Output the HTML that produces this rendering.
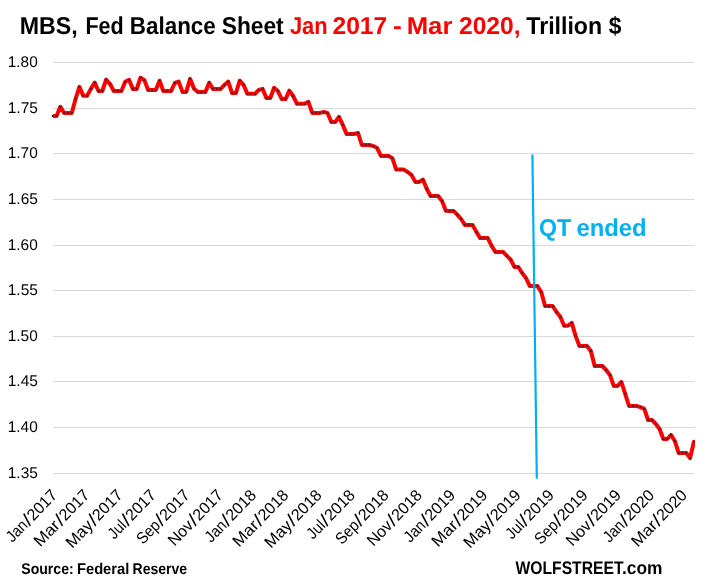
<!DOCTYPE html>
<html><head><meta charset="utf-8"><style>
html,body{margin:0;padding:0;background:#fff;}
body{width:714px;height:588px;position:relative;overflow:hidden;}
svg{position:absolute;left:0;top:0;}
text{font-family:"Liberation Sans",sans-serif;}
</style></head><body>
<svg width="714" height="588" viewBox="0 0 714 588">
<g stroke="#d9d9d9" stroke-width="1"><line x1="53.4" y1="62.5" x2="694.6" y2="62.5"/><line x1="53.4" y1="108.5" x2="694.6" y2="108.5"/><line x1="53.4" y1="153.5" x2="694.6" y2="153.5"/><line x1="53.4" y1="199.5" x2="694.6" y2="199.5"/><line x1="53.4" y1="245.5" x2="694.6" y2="245.5"/><line x1="53.4" y1="290.5" x2="694.6" y2="290.5"/><line x1="53.4" y1="336.5" x2="694.6" y2="336.5"/><line x1="53.4" y1="381.5" x2="694.6" y2="381.5"/><line x1="53.4" y1="427.5" x2="694.6" y2="427.5"/><line x1="53.4" y1="473.5" x2="694.6" y2="473.5"/></g>
<defs><clipPath id="pa"><rect x="53.1" y="0" width="641.90" height="588"/></clipPath></defs>
<polyline clip-path="url(#pa)" points="52.70,116.0 56.52,116.0 60.33,106.8 64.15,113.0 67.97,113.0 71.78,113.0 75.60,98.8 79.42,86.8 83.23,95.8 87.05,95.8 90.87,88.9 94.68,82.6 98.50,91.0 102.32,91.0 106.13,79.6 109.95,83.8 113.77,91.0 117.58,91.0 121.40,91.0 125.22,81.8 129.03,79.8 132.85,89.1 136.67,89.1 140.48,77.7 144.30,79.9 148.12,90.0 151.93,90.0 155.75,90.0 159.57,80.7 163.38,91.1 167.20,91.1 171.02,91.1 174.83,83.0 178.65,81.6 182.47,91.9 186.28,91.9 190.10,78.8 193.92,88.6 197.73,91.9 201.55,91.9 205.37,91.9 209.18,82.7 213.00,88.9 216.82,88.9 220.63,88.9 224.45,84.9 228.27,81.6 232.08,93.1 235.90,93.1 239.72,80.7 243.53,84.9 247.35,93.8 251.17,93.8 254.98,93.8 258.80,89.9 262.62,88.9 266.43,98.1 270.25,98.1 274.07,87.8 277.88,91.0 281.70,99.1 285.52,99.1 289.33,90.7 293.15,96.0 296.97,103.8 300.78,103.8 304.60,103.8 308.42,101.9 312.23,112.9 316.05,112.9 319.87,112.9 323.68,112.0 327.50,112.9 331.32,122.1 335.13,122.1 338.95,116.8 342.77,124.9 346.58,133.9 350.40,133.9 354.22,133.9 358.03,133.0 361.85,145.0 365.67,145.0 369.48,145.0 373.30,146.1 377.12,148.1 380.93,155.9 384.75,155.9 388.57,155.9 392.38,158.2 396.20,169.6 400.02,169.6 403.83,169.6 407.65,172.0 411.47,174.9 415.28,181.9 419.10,181.9 422.92,179.6 426.73,188.8 430.55,196.1 434.37,196.1 438.18,196.1 442.00,200.9 445.82,210.8 449.63,210.9 453.45,210.9 457.27,214.6 461.08,219.0 464.90,224.9 468.72,224.9 472.53,224.9 476.35,231.9 480.17,238.1 483.98,238.1 487.80,238.1 491.62,245.9 495.43,251.9 499.25,251.9 503.07,251.9 506.88,255.8 510.70,259.7 514.52,267.0 518.33,267.0 522.15,273.0 525.97,278.0 529.78,286.1 533.60,286.1 537.42,286.1 541.23,292.0 545.05,306.0 548.87,306.0 552.68,306.0 556.50,312.0 560.32,316.8 564.13,325.8 567.95,325.8 571.77,322.8 575.58,335.9 579.40,346.0 583.22,346.0 587.03,346.0 590.85,351.0 594.67,366.0 598.48,366.0 602.30,366.0 606.12,370.0 609.93,375.0 613.75,385.9 617.57,385.9 621.38,382.0 625.20,393.9 629.02,406.0 632.83,406.0 636.65,406.0 640.47,407.1 644.28,408.9 648.10,420.0 651.92,420.0 655.73,423.9 659.55,429.0 663.37,439.0 667.18,439.0 671.00,434.9 674.82,441.0 678.63,452.9 682.45,452.9 686.27,452.9 690.08,458.1 693.90,441.8" fill="none" stroke="#ff0000" stroke-width="4.0" stroke-linejoin="round" stroke-linecap="round"/>
<path d="M51.80 115.10h1.8v1.8h-1.8zM55.62 115.10h1.8v1.8h-1.8zM59.43 105.90h1.8v1.8h-1.8zM63.25 112.10h1.8v1.8h-1.8zM67.07 112.10h1.8v1.8h-1.8zM70.88 112.10h1.8v1.8h-1.8zM74.70 97.90h1.8v1.8h-1.8zM78.52 85.90h1.8v1.8h-1.8zM82.33 94.90h1.8v1.8h-1.8zM86.15 94.90h1.8v1.8h-1.8zM89.97 88.00h1.8v1.8h-1.8zM93.78 81.70h1.8v1.8h-1.8zM97.60 90.10h1.8v1.8h-1.8zM101.42 90.10h1.8v1.8h-1.8zM105.23 78.70h1.8v1.8h-1.8zM109.05 82.90h1.8v1.8h-1.8zM112.87 90.10h1.8v1.8h-1.8zM116.68 90.10h1.8v1.8h-1.8zM120.50 90.10h1.8v1.8h-1.8zM124.32 80.90h1.8v1.8h-1.8zM128.13 78.90h1.8v1.8h-1.8zM131.95 88.20h1.8v1.8h-1.8zM135.77 88.20h1.8v1.8h-1.8zM139.58 76.80h1.8v1.8h-1.8zM143.40 79.00h1.8v1.8h-1.8zM147.22 89.10h1.8v1.8h-1.8zM151.03 89.10h1.8v1.8h-1.8zM154.85 89.10h1.8v1.8h-1.8zM158.67 79.80h1.8v1.8h-1.8zM162.48 90.20h1.8v1.8h-1.8zM166.30 90.20h1.8v1.8h-1.8zM170.12 90.20h1.8v1.8h-1.8zM173.93 82.10h1.8v1.8h-1.8zM177.75 80.70h1.8v1.8h-1.8zM181.57 91.00h1.8v1.8h-1.8zM185.38 91.00h1.8v1.8h-1.8zM189.20 77.90h1.8v1.8h-1.8zM193.02 87.70h1.8v1.8h-1.8zM196.83 91.00h1.8v1.8h-1.8zM200.65 91.00h1.8v1.8h-1.8zM204.47 91.00h1.8v1.8h-1.8zM208.28 81.80h1.8v1.8h-1.8zM212.10 88.00h1.8v1.8h-1.8zM215.92 88.00h1.8v1.8h-1.8zM219.73 88.00h1.8v1.8h-1.8zM223.55 84.00h1.8v1.8h-1.8zM227.37 80.70h1.8v1.8h-1.8zM231.18 92.20h1.8v1.8h-1.8zM235.00 92.20h1.8v1.8h-1.8zM238.82 79.80h1.8v1.8h-1.8zM242.63 84.00h1.8v1.8h-1.8zM246.45 92.90h1.8v1.8h-1.8zM250.27 92.90h1.8v1.8h-1.8zM254.08 92.90h1.8v1.8h-1.8zM257.90 89.00h1.8v1.8h-1.8zM261.72 88.00h1.8v1.8h-1.8zM265.53 97.20h1.8v1.8h-1.8zM269.35 97.20h1.8v1.8h-1.8zM273.17 86.90h1.8v1.8h-1.8zM276.98 90.10h1.8v1.8h-1.8zM280.80 98.20h1.8v1.8h-1.8zM284.62 98.20h1.8v1.8h-1.8zM288.43 89.80h1.8v1.8h-1.8zM292.25 95.10h1.8v1.8h-1.8zM296.07 102.90h1.8v1.8h-1.8zM299.88 102.90h1.8v1.8h-1.8zM303.70 102.90h1.8v1.8h-1.8zM307.52 101.00h1.8v1.8h-1.8zM311.33 112.00h1.8v1.8h-1.8zM315.15 112.00h1.8v1.8h-1.8zM318.97 112.00h1.8v1.8h-1.8zM322.78 111.10h1.8v1.8h-1.8zM326.60 112.00h1.8v1.8h-1.8zM330.42 121.20h1.8v1.8h-1.8zM334.23 121.20h1.8v1.8h-1.8zM338.05 115.90h1.8v1.8h-1.8zM341.87 124.00h1.8v1.8h-1.8zM345.68 133.00h1.8v1.8h-1.8zM349.50 133.00h1.8v1.8h-1.8zM353.32 133.00h1.8v1.8h-1.8zM357.13 132.10h1.8v1.8h-1.8zM360.95 144.10h1.8v1.8h-1.8zM364.77 144.10h1.8v1.8h-1.8zM368.58 144.10h1.8v1.8h-1.8zM372.40 145.20h1.8v1.8h-1.8zM376.22 147.20h1.8v1.8h-1.8zM380.03 155.00h1.8v1.8h-1.8zM383.85 155.00h1.8v1.8h-1.8zM387.67 155.00h1.8v1.8h-1.8zM391.48 157.30h1.8v1.8h-1.8zM395.30 168.70h1.8v1.8h-1.8zM399.12 168.70h1.8v1.8h-1.8zM402.93 168.70h1.8v1.8h-1.8zM406.75 171.10h1.8v1.8h-1.8zM410.57 174.00h1.8v1.8h-1.8zM414.38 181.00h1.8v1.8h-1.8zM418.20 181.00h1.8v1.8h-1.8zM422.02 178.70h1.8v1.8h-1.8zM425.83 187.90h1.8v1.8h-1.8zM429.65 195.20h1.8v1.8h-1.8zM433.47 195.20h1.8v1.8h-1.8zM437.28 195.20h1.8v1.8h-1.8zM441.10 200.00h1.8v1.8h-1.8zM444.92 209.90h1.8v1.8h-1.8zM448.73 210.00h1.8v1.8h-1.8zM452.55 210.00h1.8v1.8h-1.8zM456.37 213.70h1.8v1.8h-1.8zM460.18 218.10h1.8v1.8h-1.8zM464.00 224.00h1.8v1.8h-1.8zM467.82 224.00h1.8v1.8h-1.8zM471.63 224.00h1.8v1.8h-1.8zM475.45 231.00h1.8v1.8h-1.8zM479.27 237.20h1.8v1.8h-1.8zM483.08 237.20h1.8v1.8h-1.8zM486.90 237.20h1.8v1.8h-1.8zM490.72 245.00h1.8v1.8h-1.8zM494.53 251.00h1.8v1.8h-1.8zM498.35 251.00h1.8v1.8h-1.8zM502.17 251.00h1.8v1.8h-1.8zM505.98 254.90h1.8v1.8h-1.8zM509.80 258.80h1.8v1.8h-1.8zM513.62 266.10h1.8v1.8h-1.8zM517.43 266.10h1.8v1.8h-1.8zM521.25 272.10h1.8v1.8h-1.8zM525.07 277.10h1.8v1.8h-1.8zM528.88 285.20h1.8v1.8h-1.8zM532.70 285.20h1.8v1.8h-1.8zM536.52 285.20h1.8v1.8h-1.8zM540.33 291.10h1.8v1.8h-1.8zM544.15 305.10h1.8v1.8h-1.8zM547.97 305.10h1.8v1.8h-1.8zM551.78 305.10h1.8v1.8h-1.8zM555.60 311.10h1.8v1.8h-1.8zM559.42 315.90h1.8v1.8h-1.8zM563.23 324.90h1.8v1.8h-1.8zM567.05 324.90h1.8v1.8h-1.8zM570.87 321.90h1.8v1.8h-1.8zM574.68 335.00h1.8v1.8h-1.8zM578.50 345.10h1.8v1.8h-1.8zM582.32 345.10h1.8v1.8h-1.8zM586.13 345.10h1.8v1.8h-1.8zM589.95 350.10h1.8v1.8h-1.8zM593.77 365.10h1.8v1.8h-1.8zM597.58 365.10h1.8v1.8h-1.8zM601.40 365.10h1.8v1.8h-1.8zM605.22 369.10h1.8v1.8h-1.8zM609.03 374.10h1.8v1.8h-1.8zM612.85 385.00h1.8v1.8h-1.8zM616.67 385.00h1.8v1.8h-1.8zM620.48 381.10h1.8v1.8h-1.8zM624.30 393.00h1.8v1.8h-1.8zM628.12 405.10h1.8v1.8h-1.8zM631.93 405.10h1.8v1.8h-1.8zM635.75 405.10h1.8v1.8h-1.8zM639.57 406.20h1.8v1.8h-1.8zM643.38 408.00h1.8v1.8h-1.8zM647.20 419.10h1.8v1.8h-1.8zM651.02 419.10h1.8v1.8h-1.8zM654.83 423.00h1.8v1.8h-1.8zM658.65 428.10h1.8v1.8h-1.8zM662.47 438.10h1.8v1.8h-1.8zM666.28 438.10h1.8v1.8h-1.8zM670.10 434.00h1.8v1.8h-1.8zM673.92 440.10h1.8v1.8h-1.8zM677.73 452.00h1.8v1.8h-1.8zM681.55 452.00h1.8v1.8h-1.8zM685.37 452.00h1.8v1.8h-1.8zM689.18 457.20h1.8v1.8h-1.8zM693.00 440.90h1.8v1.8h-1.8z" fill="#3a2030"/>
<line x1="532.4" y1="155.3" x2="536.8" y2="477.8" stroke="#00b0f0" stroke-width="2.2" stroke-linecap="round"/>
</svg>
<svg width="714" height="588" viewBox="0 0 714 588" style="will-change:transform;text-rendering:geometricPrecision">
<text x="19.68" y="33.60" font-size="24.35" font-weight="bold" fill="#000" textLength="57.94" lengthAdjust="spacingAndGlyphs">MBS,</text>
<text x="85.39" y="33.60" font-size="24.35" font-weight="bold" fill="#000" textLength="38.27" lengthAdjust="spacingAndGlyphs">Fed</text>
<text x="129.83" y="33.60" font-size="24.35" font-weight="bold" fill="#000" textLength="85.96" lengthAdjust="spacingAndGlyphs">Balance</text>
<text x="221.72" y="33.60" font-size="24.35" font-weight="bold" fill="#000" textLength="61.99" lengthAdjust="spacingAndGlyphs">Sheet</text>
<text x="289.93" y="33.60" font-size="24.35" font-weight="bold" fill="#f00" textLength="37.73" lengthAdjust="spacingAndGlyphs">Jan</text>
<text x="332.47" y="33.60" font-size="24.35" font-weight="bold" fill="#f00" textLength="54.67" lengthAdjust="spacingAndGlyphs">2017</text>
<text x="393.14" y="33.60" font-size="24.35" font-weight="bold" fill="#f00" textLength="8.79" lengthAdjust="spacingAndGlyphs">-</text>
<text x="406.67" y="33.60" font-size="24.35" font-weight="bold" fill="#f00" textLength="45.75" lengthAdjust="spacingAndGlyphs">Mar</text>
<text x="458.96" y="33.60" font-size="24.35" font-weight="bold" fill="#f00" textLength="61.58" lengthAdjust="spacingAndGlyphs">2020,</text>
<text x="526.27" y="33.60" font-size="24.35" font-weight="bold" fill="#000" textLength="75.87" lengthAdjust="spacingAndGlyphs">Trillion</text>
<text x="608.67" y="33.60" font-size="24.35" font-weight="bold" fill="#000" textLength="12.70" lengthAdjust="spacingAndGlyphs">$</text>
<text x="21.28" y="573.70" font-size="15.51" font-weight="bold" fill="#000" textLength="52.44" lengthAdjust="spacingAndGlyphs">Source:</text>
<text x="76.97" y="573.70" font-size="15.51" font-weight="bold" fill="#000" textLength="52.32" lengthAdjust="spacingAndGlyphs">Federal</text>
<text x="132.52" y="573.70" font-size="15.51" font-weight="bold" fill="#000" textLength="54.63" lengthAdjust="spacingAndGlyphs">Reserve</text>
<text x="515.50" y="573.60" font-size="18.26" font-weight="bold" fill="#000" textLength="108.03" lengthAdjust="spacingAndGlyphs">WOLFSTREET</text>
<text x="621.98" y="573.60" font-size="18.26" font-weight="bold" fill="#000" textLength="40.53" lengthAdjust="spacingAndGlyphs">.com</text>
<text x="539.07" y="235.60" font-size="24.35" font-weight="bold" fill="#00b0f0" textLength="32.23" lengthAdjust="spacingAndGlyphs">QT</text>
<text x="576.45" y="235.60" font-size="24.35" font-weight="bold" fill="#00b0f0" textLength="70.10" lengthAdjust="spacingAndGlyphs">ended</text>
<text x="7.77" y="67" font-size="15.5" textLength="29.99" lengthAdjust="spacingAndGlyphs">1.80</text>
<text x="7.76" y="113" font-size="15.5" textLength="30.16" lengthAdjust="spacingAndGlyphs">1.75</text>
<text x="7.77" y="158" font-size="15.5" textLength="29.99" lengthAdjust="spacingAndGlyphs">1.70</text>
<text x="7.76" y="204" font-size="15.5" textLength="30.16" lengthAdjust="spacingAndGlyphs">1.65</text>
<text x="7.77" y="250" font-size="15.5" textLength="29.99" lengthAdjust="spacingAndGlyphs">1.60</text>
<text x="7.76" y="295" font-size="15.5" textLength="30.16" lengthAdjust="spacingAndGlyphs">1.55</text>
<text x="7.77" y="341" font-size="15.5" textLength="29.99" lengthAdjust="spacingAndGlyphs">1.50</text>
<text x="7.76" y="386" font-size="15.5" textLength="30.16" lengthAdjust="spacingAndGlyphs">1.45</text>
<text x="7.77" y="432" font-size="15.5" textLength="29.99" lengthAdjust="spacingAndGlyphs">1.40</text>
<text x="7.76" y="478" font-size="15.5" textLength="30.16" lengthAdjust="spacingAndGlyphs">1.35</text>
<g transform="rotate(-45.8 57.70 496.50)"><text x="-7.19" y="496.50" font-size="16.2" textLength="23.28" lengthAdjust="spacingAndGlyphs">Jan</text><text x="17.24" y="496.50" font-size="16.2" transform="translate(19.49 490.34) scale(1.35 1.12) translate(-19.49 -490.34)">/</text><text x="22.88" y="496.50" font-size="16.2" textLength="35.69" lengthAdjust="spacingAndGlyphs">2017</text></g>
<g transform="rotate(-45.8 89.87 496.50)"><text x="18.64" y="496.50" font-size="16.2" textLength="29.62" lengthAdjust="spacingAndGlyphs">Mar</text><text x="49.41" y="496.50" font-size="16.2" transform="translate(51.66 490.34) scale(1.35 1.12) translate(-51.66 -490.34)">/</text><text x="55.05" y="496.50" font-size="16.2" textLength="35.69" lengthAdjust="spacingAndGlyphs">2017</text></g>
<g transform="rotate(-45.8 123.13 496.50)"><text x="50.07" y="496.50" font-size="16.2" textLength="31.45" lengthAdjust="spacingAndGlyphs">May</text><text x="82.66" y="496.50" font-size="16.2" transform="translate(84.92 490.34) scale(1.35 1.12) translate(-84.92 -490.34)">/</text><text x="88.31" y="496.50" font-size="16.2" textLength="35.69" lengthAdjust="spacingAndGlyphs">2017</text></g>
<g transform="rotate(-45.8 156.39 496.50)"><text x="95.89" y="496.50" font-size="16.2" textLength="18.88" lengthAdjust="spacingAndGlyphs">Jul</text><text x="115.92" y="496.50" font-size="16.2" transform="translate(118.18 490.34) scale(1.35 1.12) translate(-118.18 -490.34)">/</text><text x="121.57" y="496.50" font-size="16.2" textLength="35.69" lengthAdjust="spacingAndGlyphs">2017</text></g>
<g transform="rotate(-45.8 190.19 496.50)"><text x="122.50" y="496.50" font-size="16.2" textLength="26.08" lengthAdjust="spacingAndGlyphs">Sep</text><text x="149.73" y="496.50" font-size="16.2" transform="translate(151.98 490.34) scale(1.35 1.12) translate(-151.98 -490.34)">/</text><text x="155.38" y="496.50" font-size="16.2" textLength="35.69" lengthAdjust="spacingAndGlyphs">2017</text></g>
<g transform="rotate(-45.8 223.45 496.50)"><text x="153.24" y="496.50" font-size="16.2" textLength="28.60" lengthAdjust="spacingAndGlyphs">Nov</text><text x="182.99" y="496.50" font-size="16.2" transform="translate(185.24 490.34) scale(1.35 1.12) translate(-185.24 -490.34)">/</text><text x="188.64" y="496.50" font-size="16.2" textLength="35.69" lengthAdjust="spacingAndGlyphs">2017</text></g>
<g transform="rotate(-45.8 256.71 496.50)"><text x="191.66" y="496.50" font-size="16.2" textLength="23.28" lengthAdjust="spacingAndGlyphs">Jan</text><text x="216.09" y="496.50" font-size="16.2" transform="translate(218.34 490.34) scale(1.35 1.12) translate(-218.34 -490.34)">/</text><text x="221.74" y="496.50" font-size="16.2" textLength="35.69" lengthAdjust="spacingAndGlyphs">2018</text></g>
<g transform="rotate(-45.8 288.88 496.50)"><text x="217.49" y="496.50" font-size="16.2" textLength="29.62" lengthAdjust="spacingAndGlyphs">Mar</text><text x="248.26" y="496.50" font-size="16.2" transform="translate(250.51 490.34) scale(1.35 1.12) translate(-250.51 -490.34)">/</text><text x="253.91" y="496.50" font-size="16.2" textLength="35.69" lengthAdjust="spacingAndGlyphs">2018</text></g>
<g transform="rotate(-45.8 322.14 496.50)"><text x="248.92" y="496.50" font-size="16.2" textLength="31.45" lengthAdjust="spacingAndGlyphs">May</text><text x="281.52" y="496.50" font-size="16.2" transform="translate(283.77 490.34) scale(1.35 1.12) translate(-283.77 -490.34)">/</text><text x="287.16" y="496.50" font-size="16.2" textLength="35.69" lengthAdjust="spacingAndGlyphs">2018</text></g>
<g transform="rotate(-45.8 355.40 496.50)"><text x="294.75" y="496.50" font-size="16.2" textLength="18.88" lengthAdjust="spacingAndGlyphs">Jul</text><text x="314.78" y="496.50" font-size="16.2" transform="translate(317.03 490.34) scale(1.35 1.12) translate(-317.03 -490.34)">/</text><text x="320.42" y="496.50" font-size="16.2" textLength="35.69" lengthAdjust="spacingAndGlyphs">2018</text></g>
<g transform="rotate(-45.8 389.20 496.50)"><text x="321.35" y="496.50" font-size="16.2" textLength="26.08" lengthAdjust="spacingAndGlyphs">Sep</text><text x="348.58" y="496.50" font-size="16.2" transform="translate(350.83 490.34) scale(1.35 1.12) translate(-350.83 -490.34)">/</text><text x="354.23" y="496.50" font-size="16.2" textLength="35.69" lengthAdjust="spacingAndGlyphs">2018</text></g>
<g transform="rotate(-45.8 422.46 496.50)"><text x="352.09" y="496.50" font-size="16.2" textLength="28.60" lengthAdjust="spacingAndGlyphs">Nov</text><text x="381.84" y="496.50" font-size="16.2" transform="translate(384.09 490.34) scale(1.35 1.12) translate(-384.09 -490.34)">/</text><text x="387.49" y="496.50" font-size="16.2" textLength="35.69" lengthAdjust="spacingAndGlyphs">2018</text></g>
<g transform="rotate(-45.8 455.72 496.50)"><text x="390.67" y="496.50" font-size="16.2" textLength="23.28" lengthAdjust="spacingAndGlyphs">Jan</text><text x="415.10" y="496.50" font-size="16.2" transform="translate(417.35 490.34) scale(1.35 1.12) translate(-417.35 -490.34)">/</text><text x="420.75" y="496.50" font-size="16.2" textLength="35.69" lengthAdjust="spacingAndGlyphs">2019</text></g>
<g transform="rotate(-45.8 487.89 496.50)"><text x="416.50" y="496.50" font-size="16.2" textLength="29.62" lengthAdjust="spacingAndGlyphs">Mar</text><text x="447.27" y="496.50" font-size="16.2" transform="translate(449.52 490.34) scale(1.35 1.12) translate(-449.52 -490.34)">/</text><text x="452.92" y="496.50" font-size="16.2" textLength="35.69" lengthAdjust="spacingAndGlyphs">2019</text></g>
<g transform="rotate(-45.8 521.15 496.50)"><text x="447.93" y="496.50" font-size="16.2" textLength="31.45" lengthAdjust="spacingAndGlyphs">May</text><text x="480.53" y="496.50" font-size="16.2" transform="translate(482.78 490.34) scale(1.35 1.12) translate(-482.78 -490.34)">/</text><text x="486.18" y="496.50" font-size="16.2" textLength="35.69" lengthAdjust="spacingAndGlyphs">2019</text></g>
<g transform="rotate(-45.8 554.41 496.50)"><text x="493.76" y="496.50" font-size="16.2" textLength="18.88" lengthAdjust="spacingAndGlyphs">Jul</text><text x="513.79" y="496.50" font-size="16.2" transform="translate(516.04 490.34) scale(1.35 1.12) translate(-516.04 -490.34)">/</text><text x="519.44" y="496.50" font-size="16.2" textLength="35.69" lengthAdjust="spacingAndGlyphs">2019</text></g>
<g transform="rotate(-45.8 588.22 496.50)"><text x="520.36" y="496.50" font-size="16.2" textLength="26.08" lengthAdjust="spacingAndGlyphs">Sep</text><text x="547.59" y="496.50" font-size="16.2" transform="translate(549.84 490.34) scale(1.35 1.12) translate(-549.84 -490.34)">/</text><text x="553.24" y="496.50" font-size="16.2" textLength="35.69" lengthAdjust="spacingAndGlyphs">2019</text></g>
<g transform="rotate(-45.8 621.48 496.50)"><text x="551.11" y="496.50" font-size="16.2" textLength="28.60" lengthAdjust="spacingAndGlyphs">Nov</text><text x="580.85" y="496.50" font-size="16.2" transform="translate(583.10 490.34) scale(1.35 1.12) translate(-583.10 -490.34)">/</text><text x="586.50" y="496.50" font-size="16.2" textLength="35.69" lengthAdjust="spacingAndGlyphs">2019</text></g>
<g transform="rotate(-45.8 654.74 496.50)"><text x="589.68" y="496.50" font-size="16.2" textLength="23.28" lengthAdjust="spacingAndGlyphs">Jan</text><text x="614.11" y="496.50" font-size="16.2" transform="translate(616.36 490.34) scale(1.35 1.12) translate(-616.36 -490.34)">/</text><text x="619.76" y="496.50" font-size="16.2" textLength="35.69" lengthAdjust="spacingAndGlyphs">2020</text></g>
<g transform="rotate(-45.8 687.45 496.50)"><text x="616.06" y="496.50" font-size="16.2" textLength="29.62" lengthAdjust="spacingAndGlyphs">Mar</text><text x="646.83" y="496.50" font-size="16.2" transform="translate(649.08 490.34) scale(1.35 1.12) translate(-649.08 -490.34)">/</text><text x="652.47" y="496.50" font-size="16.2" textLength="35.69" lengthAdjust="spacingAndGlyphs">2020</text></g>
</svg>
</body></html>
